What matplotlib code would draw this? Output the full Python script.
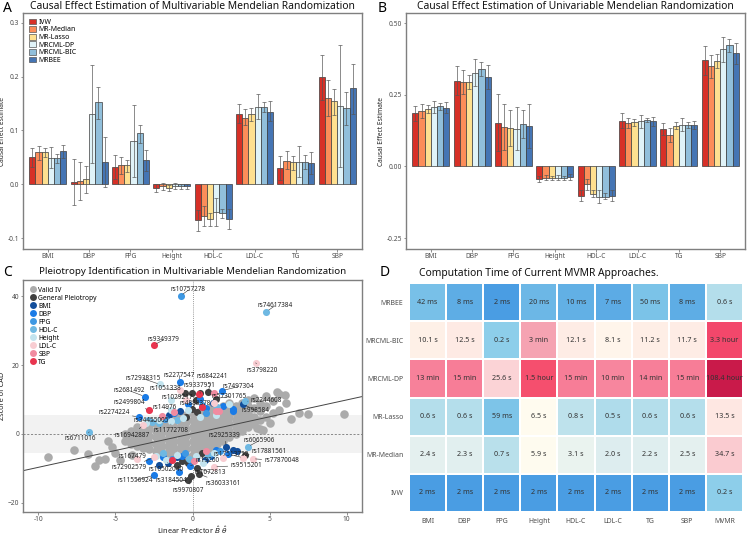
import numpy as np
import matplotlib
matplotlib.use("Agg")
import matplotlib.pyplot as plt
from matplotlib.colors import LinearSegmentedColormap
from matplotlib.lines import Line2D
from matplotlib.patches import Patch

plt.rcParams['font.family'] = ['Noto Sans', 'DejaVu Sans']

traits = ["BMI", "DBP", "FPG", "Height", "HDL-C", "LDL-C", "TG", "SBP"]
methods = ["IVW", "MR-Median", "MR-Lasso", "MRCML-DP", "MRCML-BIC", "MRBEE"]
method_colors = ["#D73027", "#FC8D59", "#FEE090", "#E0F3F8", "#91BFDB", "#4575B4"]

# panel A: multivariable MR, one row per method
mv_est = [[0.051, 0.005, 0.033, -0.007, -0.066, 0.131, 0.030, 0.200],
          [0.060, 0.006, 0.035, -0.004, -0.059, 0.124, 0.044, 0.161],
          [0.060, 0.009, 0.035, -0.007, -0.065, 0.131, 0.041, 0.154],
          [0.049, 0.131, 0.081, -0.003, -0.051, 0.144, 0.042, 0.146],
          [0.048, 0.152, 0.095, -0.004, -0.054, 0.144, 0.042, 0.141],
          [0.061, 0.042, 0.045, -0.004, -0.064, 0.135, 0.039, 0.178]]
mv_lo = [[0.033, -0.039, 0.010, -0.015, -0.087, 0.113, 0.008, 0.157],
         [0.046, -0.029, 0.020, -0.010, -0.077, 0.110, 0.028, 0.127],
         [0.051, -0.016, 0.022, -0.012, -0.077, 0.118, 0.027, 0.129],
         [0.030, 0.039, 0.014, -0.009, -0.077, 0.121, 0.013, 0.033],
         [0.040, 0.121, 0.077, -0.008, -0.063, 0.135, 0.029, 0.111],
         [0.048, -0.005, 0.025, -0.009, -0.083, 0.117, 0.020, 0.131]]
mv_hi = [[0.067, 0.047, 0.055, 0.000, -0.047, 0.149, 0.053, 0.240],
         [0.072, 0.042, 0.050, 0.002, -0.040, 0.140, 0.062, 0.194],
         [0.068, 0.034, 0.045, -0.002, -0.053, 0.142, 0.053, 0.177],
         [0.070, 0.222, 0.148, 0.003, -0.025, 0.168, 0.072, 0.259],
         [0.057, 0.181, 0.110, 0.001, -0.045, 0.153, 0.055, 0.171],
         [0.073, 0.088, 0.064, 0.001, -0.046, 0.154, 0.060, 0.223]]

# panel B: univariable MR
uv_est = [[0.185, 0.299, 0.152, -0.043, -0.102, 0.159, 0.130, 0.370],
          [0.194, 0.295, 0.138, -0.039, -0.063, 0.151, 0.110, 0.349],
          [0.200, 0.295, 0.135, -0.039, -0.095, 0.155, 0.142, 0.367],
          [0.207, 0.326, 0.130, -0.040, -0.105, 0.158, 0.145, 0.409],
          [0.210, 0.341, 0.148, -0.040, -0.105, 0.163, 0.145, 0.423],
          [0.205, 0.312, 0.142, -0.037, -0.102, 0.158, 0.145, 0.395]]
uv_lo = [[0.157, 0.248, 0.055, -0.054, -0.121, 0.133, 0.110, 0.319],
         [0.170, 0.254, 0.058, -0.048, -0.082, 0.134, 0.086, 0.310],
         [0.186, 0.270, 0.070, -0.046, -0.108, 0.142, 0.129, 0.343],
         [0.186, 0.279, 0.056, -0.049, -0.127, 0.135, 0.123, 0.365],
         [0.198, 0.317, 0.100, -0.046, -0.115, 0.155, 0.135, 0.400],
         [0.186, 0.270, 0.065, -0.046, -0.121, 0.142, 0.129, 0.358]]
uv_hi = [[0.212, 0.351, 0.253, -0.032, -0.082, 0.185, 0.152, 0.421],
         [0.218, 0.337, 0.219, -0.030, -0.045, 0.170, 0.135, 0.390],
         [0.215, 0.320, 0.196, -0.032, -0.082, 0.167, 0.154, 0.392],
         [0.229, 0.373, 0.207, -0.031, -0.083, 0.181, 0.168, 0.453],
         [0.222, 0.365, 0.196, -0.034, -0.094, 0.170, 0.155, 0.445],
         [0.224, 0.353, 0.219, -0.028, -0.083, 0.174, 0.160, 0.432]]

# panel C: SNPs (linear predictor, zscore)
groups = ["Valid IV", "General Pleiotropy", "BMI", "DBP", "FPG", "HDL-C", "Height", "LDL-C", "SBP", "TG"]
group_colors = ["#ABABAB", "#404040", "#124E9B", "#1A7BE6", "#3E98E3", "#6EB8E2",
                "#C2E3EE", "#F8CDD2", "#F08BA0", "#E8354F"]

valid_cols = [(-4.4, [-2.0, 0.0]), (-4.0, [-3.0, -1.0, 1.0]), (-3.6, [-3.5, -1.5, 0.5, 2.0]),
              (-3.2, [-4.0, -2.0, 0.0, 2.0]), (-2.8, [-4.5, -2.5, -0.5, 1.5, 3.0]),
              (-2.4, [-5.0, -3.0, -1.0, 1.0, 3.0]), (-2.0, [-5.5, -3.5, -1.5, 0.5, 2.5, 4.0]),
              (-1.6, [-5.5, -3.5, -1.5, 0.5, 2.5, 4.0]), (-1.2, [-6.0, -4.0, -2.0, 0.0, 2.0, 4.0, 5.5]),
              (-0.8, [-6.0, -4.0, -2.0, 0.0, 2.0, 4.0, 6.0]), (-0.4, [-6.5, -4.5, -2.5, -0.5, 1.5, 3.5, 5.5]),
              (0.0, [-6.0, -4.0, -2.0, 0.0, 2.0, 4.0, 6.0]), (0.4, [-5.5, -3.5, -1.5, 0.5, 2.5, 4.5, 6.5]),
              (0.8, [-4.5, -2.5, -0.5, 1.5, 3.5, 5.5, 7.0]), (1.2, [-4.0, -2.0, 0.0, 2.0, 4.0, 6.0, 7.5]),
              (1.6, [-3.0, -1.0, 1.0, 3.0, 5.0, 7.0]), (2.0, [-2.0, 0.0, 2.0, 4.0, 6.0, 8.0]),
              (2.4, [-1.0, 1.0, 3.0, 5.0, 7.0, 9.0]), (2.8, [0.0, 2.0, 4.0, 6.0, 8.0]),
              (3.2, [1.0, 3.0, 5.0, 7.0, 9.0]), (3.6, [2.0, 4.0, 6.0, 8.0, 10.0]),
              (4.0, [3.0, 5.0, 7.5, 10.5]), (4.4, [1.4, 4.0, 6.6, 9.0]), (4.8, [5.0, 8.0, 11.0]),
              (5.2, [6.0, 9.5]), (5.6, [7.0, 11.5])]
valid_extra = [(-9.35, -6.6), (-7.7, -4.6), (-6.3, -9.2), (-6.1, -7.5), (-5.7, -7.2), (-5.2, -3.8),
               (-4.7, -7.5), (-5.5, -2.0), (-4.1, -0.5), (-3.9, -6.0), (-5.0, -5.5), (-6.8, -5.8),
               (6.1, 8.9), (7.5, 5.7), (6.9, 6.2), (9.8, 5.7), (6.4, 4.5), (4.6, 1.1), (4.2, 1.7),
               (6.0, 11.2), (5.0, 3.2), (5.5, 12.3)]
pleio_pts = {
    "General Pleiotropy": [(-0.5, 11.8), (-0.06, 11.8), (0.5, 11.8), (1.0, 12.1), (-0.06, 7.2), (0.2, 9.8),
                           (-0.4, 5.0), (0.3, 6.5), (-0.65, -8.0), (-0.3, -8.5), (0.3, -9.8), (0.45, -11.7),
                           (-0.3, -13.5), (-0.1, -12.2), (-1.0, -9.0), (0.6, -5.5), (1.5, 10.3), (3.4, -6.2)],
    "BMI": [(-0.84, 6.6), (3.3, 8.6), (2.6, -4.6), (2.9, -4.9), (-2.2, -8.9), (-1.0, -6.8), (0.8, -7.5),
            (2.2, -3.8), (-1.5, 5.5), (1.3, 9.0), (0.2, -7.0), (-1.6, -8.3)],
    "DBP": [(-0.84, 15.2), (-3.1, 10.9), (-3.5, 4.9), (1.9, 12.6), (-2.5, -12.0), (0.5, 10.3), (2.0, 8.0),
            (2.6, 7.2), (2.6, 6.6), (1.5, -4.6), (-0.9, -11.2), (-0.13, -9.2), (-1.2, 6.0), (0.9, 7.5),
            (-0.3, 8.8), (1.2, -6.5), (-1.9, -6.8), (2.3, -5.8), (-0.7, -6.5), (-2.8, -8.0)],
    "FPG": [(-0.77, 40.2), (-1.8, 4.5), (0.9, 6.0), (-0.5, -5.5), (1.8, -5.0), (-1.3, -7.2), (0.6, 8.5)],
    "HDL-C": [(4.8, 35.6), (-6.7, 0.6), (3.4, 9.5), (3.6, -3.7), (-2.6, 3.6), (-1.0, 4.0), (-1.9, -5.5),
              (1.0, -6.0), (-0.2, -7.3), (-2.9, 4.2), (1.6, 7.8), (-2.2, 3.3)],
    "Height": [(-2.1, 14.4), (-1.4, 9.8), (-1.4, 3.7), (-0.6, 4.6), (-2.2, 4.0), (0.5, 5.0), (1.5, 5.5),
               (-1.0, -6.0), (-2.4, -6.3), (0.2, -6.4), (1.4, -5.6), (-3.0, 3.2), (-0.3, 7.0),
               (2.4, 8.8), (-1.7, -7.5), (0.7, -8.3), (-1.4, 6.9)],
    "LDL-C": [(4.1, 20.7), (-0.84, 12.9), (1.4, -9.5), (3.3, -6.9), (3.9, -7.2), (-3.6, -7.2), (1.4, 8.9),
              (-3.2, 2.6), (-0.4, 9.9), (-2.5, -6.8), (2.0, -7.0)],
    "SBP": [(1.4, 11.8), (1.7, 6.6), (1.5, 6.8), (-2.0, 5.3), (0.1, -8.0), (-1.2, 6.5), (0.9, -5.0)],
    "TG": [(-2.5, 25.9), (-2.8, 6.9), (0.4, 11.5), (-1.3, -7.5), (0.6, 7.8)],
}
fit_slope = 0.98
fit_intercept = 0.1

# labelled SNPs: name, point, label position
snp_labels = [
    ("rs10757278", (-0.77, 40.2), (-0.26, 41.9)), ("rs74617384", (4.8, 35.6), (5.35, 37.3)),
    ("rs9349379", (-2.5, 25.9), (-1.87, 27.4)), ("rs3798220", (4.1, 20.7), (4.5, 18.6)),
    ("rs72938315", (-2.1, 14.4), (-3.2, 16.1)), ("rs2277547", (-0.84, 15.2), (-0.84, 17.0)),
    ("rs1051338", (-0.84, 12.9), (-1.75, 13.1)), ("rs2681492", (-3.1, 10.9), (-4.1, 12.6)),
    ("rs9337951", (0.5, 11.8), (0.45, 14.1)), ("rs6842241", (1.0, 12.1), (1.3, 16.7)),
    ("rs7497304", (1.9, 12.6), (3.0, 13.8)), ("rs1029217", (-0.5, 11.8), (-1.0, 10.6)),
    ("rs4888378", (-0.06, 7.2), (0.2, 8.9)), ("rs57301765", (1.5, 10.3), (2.4, 10.9)),
    ("rs2244608", (3.4, 9.5), (4.8, 9.8)), ("rs998584", (3.3, 8.6), (4.1, 6.9)),
    ("rs2499804", (-2.8, 6.9), (-4.1, 9.2)), ("rs14976", (-1.4, 6.9), (-1.8, 7.8)),
    ("rs2274224", (-3.5, 4.9), (-5.1, 6.3)), ("rs34455005", (-2.2, 3.3), (-2.7, 4.0)),
    ("rs6711016", (-6.7, 0.6), (-7.3, -1.4)), ("rs16942887", (-3.2, 2.6), (-3.9, -0.3)),
    ("rs11772708", (-1.4, 3.7), (-1.4, 0.9)), ("rs167479", (-3.6, -7.2), (-3.9, -6.6)),
    ("rs72902579", (-2.5, -6.8), (-4.1, -9.8)), ("rs11556924", (-2.5, -12.0), (-3.7, -13.5)),
    ("rs10502040", (-1.6, -8.3), (-1.7, -10.3)), ("rs3184504", (-0.3, -13.5), (-1.35, -13.5)),
    ("rs9970807", (-0.1, -12.2), (-0.3, -16.4)), ("rs13260", (-0.13, -9.2), (1.0, -7.8)),
    ("rs1072813", (0.3, -9.8), (1.16, -11.2)), ("rs36033161", (0.45, -11.7), (2.0, -14.4)),
    ("rs9515201", (1.4, -9.5), (3.5, -9.2)), ("rs17513752", (3.3, -6.9), (2.5, -6.1)),
    ("rs17881561", (3.4, -6.2), (5.0, -5.0)), ("rs77870048", (3.9, -7.2), (5.8, -7.8)),
    ("rs6065906", (3.6, -3.7), (4.3, -2.0)), ("rs2925339", (2.2, -3.8), (2.05, -0.3)),
]

# panel D: computation time
time_rows = ["MRBEE", "MRCML-BIC", "MRCML-DP", "MR-Lasso", "MR-Median", "IVW"]
time_cols = traits + ["MVMR"]
time_text = [
    ["42 ms", "8 ms", "2 ms", "20 ms", "10 ms", "7 ms", "50 ms", "8 ms", "0.6 s"],
    ["10.1 s", "12.5 s", "0.2 s", "3 min", "12.1 s", "8.1 s", "11.2 s", "11.7 s", "3.3 hour"],
    ["13 min", "15 min", "25.6 s", "1.5 hour", "15 min", "10 min", "14 min", "15 min", "108.4 hour"],
    ["0.6 s", "0.6 s", "59 ms", "6.5 s", "0.8 s", "0.5 s", "0.6 s", "0.6 s", "13.5 s"],
    ["2.4 s", "2.3 s", "0.7 s", "5.9 s", "3.1 s", "2.0 s", "2.2 s", "2.5 s", "34.7 s"],
    ["2 ms", "2 ms", "2 ms", "2 ms", "2 ms", "2 ms", "2 ms", "2 ms", "0.2 s"],
]
unit_sec = {"ms": 0.001, "s": 1.0, "min": 60.0, "hour": 3600.0}

TXT = "#4D4D4D"
SPINE = "#7F7F7F"

fig = plt.figure(figsize=(7.47, 5.35), dpi=100)
axA = fig.add_axes([23 / 747, 1 - 249 / 535, 339 / 747, 236 / 535])
axB = fig.add_axes([406 / 747, 1 - 249 / 535, 339 / 747, 236 / 535])
axC = fig.add_axes([23 / 747, 1 - 512 / 535, 339 / 747, 232 / 535])
axD = fig.add_axes([409 / 747, 1 - 512 / 535, 334 / 747, 229 / 535])


def style_box(ax):
    for s in ax.spines.values():
        s.set_color(SPINE)
        s.set_linewidth(1.0)
    ax.tick_params(length=1.8, width=0.6, color=SPINE, labelsize=4.8, labelcolor=TXT, pad=1)


def bar_panel(ax, est, lo, hi, ylim, yticks, ylabels, title):
    x = np.arange(len(traits))
    w = 0.15
    for i, m in enumerate(methods):
        pos = x + (i - 2.5) * w
        e = np.array(est[i])
        ax.bar(pos, e, width=w, color=method_colors[i], edgecolor="#3C3C3C", linewidth=0.5, zorder=2)
        ax.errorbar(pos, e, yerr=[e - np.array(lo[i]), np.array(hi[i]) - e], fmt="none",
                    ecolor="#555555", alpha=0.8, elinewidth=0.6, capsize=1.2, capthick=0.6, zorder=3)
    ax.set_xlim(-0.6, 7.6)
    ax.set_ylim(*ylim)
    ax.set_xticks(x)
    ax.set_xticklabels(traits)
    ax.set_yticks(yticks)
    ax.set_yticklabels(ylabels)
    ax.set_ylabel("Causal Effect Estimate", fontsize=4.8, color="#222222", labelpad=1)
    ax.set_title(title, fontsize=7.4, pad=3, color="#111111")
    style_box(ax)


bar_panel(axA, mv_est, mv_lo, mv_hi, (-0.12, 0.318), [-0.1, 0.0, 0.1, 0.2, 0.3],
          ["-0.1", "0.0", "0.1", "0.2", "0.3"],
          "Causal Effect Estimation of Multivariable Mendelian Randomization")
axA.legend(handles=[Patch(facecolor=c, edgecolor="#555555", linewidth=0.5, label=m)
                    for m, c in zip(methods, method_colors)],
           loc="upper left", fontsize=5, frameon=False, handlelength=1.0, handleheight=0.9,
           labelspacing=0.05, borderaxespad=0.4, handletextpad=0.4)

bar_panel(axB, uv_est, uv_lo, uv_hi, (-0.288, 0.535), [-0.25, 0.0, 0.25, 0.5],
          ["-0.25", "0.00", "0.25", "0.50"],
          "Causal Effect Estimation of Univariable Mendelian Randomization")

# panel C
axC.axhspan(-5.5, 5.5, color="#F2F2F2", lw=0, zorder=0)
axC.axhline(0, color="#777777", lw=0.6, ls=(0, (2.5, 2)), zorder=1)
axC.axvline(0, color="#777777", lw=0.6, ls=(0, (1, 1.5)), zorder=1)
vx = [c[0] for c in valid_cols for _ in c[1]] + [p[0] for p in valid_extra]
vy = [y for c in valid_cols for y in c[1]] + [p[1] for p in valid_extra]
axC.scatter(vx, vy, s=38, color=group_colors[0], lw=0, zorder=2)
axC.axline((0, fit_intercept), slope=fit_slope, color="#444444", lw=0.7, zorder=2.5)
for g, c in zip(groups[1:], group_colors[1:]):
    pts = np.array(pleio_pts[g])
    axC.scatter(pts[:, 0], pts[:, 1], s=26, color=c, lw=0, zorder=3)
for name, pt, tp in snp_labels:
    axC.annotate(name, xy=pt, xytext=tp, fontsize=4.6, color="#222222", ha="center", va="center",
                 zorder=5, arrowprops=dict(arrowstyle="-", color="#333333", lw=0.4, shrinkA=0, shrinkB=2))
axC.set_xlim(-11, 11)
axC.set_ylim(-22.7, 44.8)
axC.set_xticks([-10, -5, 0, 5, 10])
axC.set_xticklabels(["-10", "-5", "0", "5", "10"])
axC.set_yticks([-20, 0, 20, 40])
axC.set_ylabel("Zscore of CAD", fontsize=5.3, color="#222222", labelpad=1)
axC.set_xlabel(r"Linear Predictor $\hat{B}\ \hat{\theta}$", fontsize=5.3, color="#222222", labelpad=1)
axC.set_title("Pleiotropy Identification in Multivariable Mendelian Randomization", fontsize=7.0, pad=4,
              color="#111111")
style_box(axC)
axC.legend(handles=[Line2D([], [], marker="o", ls="none", markersize=5, markerfacecolor=c,
                           markeredgewidth=0, label=g) for g, c in zip(groups, group_colors)],
           loc="upper left", fontsize=4.8, frameon=False, labelspacing=0.15, handletextpad=0.3,
           borderaxespad=0.6, handlelength=1.0)

# panel D
secs = np.array([[float(t.split()[0]) * unit_sec[t.split()[1]] for t in row] for row in time_text])
logs = np.log10(secs)
vmin, vmax = np.log10(0.002), np.log10(108.4 * 3600)
anchors = [(vmin, "#4A9DE3"), (-1.3, "#7BC3E8"), (-0.7, "#8ECEEA"), (-0.22, "#B5DEEB"),
           (0.35, "#E1EFEF"), (0.8, "#FFFCEF"), (1.1, "#FEEAE4"), (1.45, "#FBCFD3"),
           (2.25, "#F5A3B2"), (2.9, "#F7819A"), (3.7, "#F5506E"), (4.07, "#F4486C"), (vmax, "#C91A4A")]
cmap = LinearSegmentedColormap.from_list("time", [((v - vmin) / (vmax - vmin), c) for v, c in anchors])
axD.pcolormesh(logs, cmap=cmap, vmin=vmin, vmax=vmax, edgecolors="white", linewidth=0.3)
for i, row in enumerate(time_text):
    for j, t in enumerate(row):
        axD.text(j + 0.5, i + 0.5, t, ha="center", va="center", fontsize=5.2, color="#333333")
axD.set_xlim(0, len(time_cols))
axD.set_ylim(len(time_rows), 0)
axD.set_xticks(np.arange(len(time_cols)) + 0.5)
axD.set_xticklabels(time_cols)
axD.set_yticks(np.arange(len(time_rows)) + 0.5)
axD.set_yticklabels(time_rows)
axD.tick_params(length=0, labelsize=5, labelcolor=TXT, pad=4)
for s in axD.spines.values():
    s.set_visible(False)
axD.set_title("Computation Time of Current MVMR Approaches.", fontsize=7.4, pad=5, loc="left",
              x=0.03, color="#111111")

for lab, x, y in [("A", 3, 8), ("B", 378, 8), ("C", 3, 272), ("D", 380, 272)]:
    fig.text(x / 747, 1 - y / 535, lab, fontsize=10, fontweight="bold", va="center", ha="left")

fig.savefig("out.png", dpi=100)
